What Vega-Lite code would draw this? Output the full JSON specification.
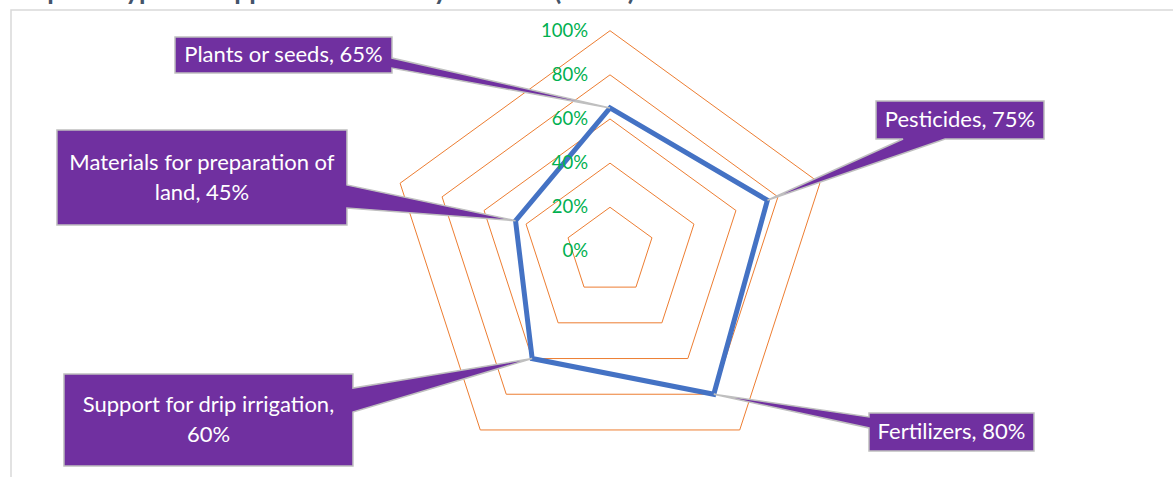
{
  "$schema": "https://vega.github.io/schema/vega-lite/v6.json",
  "width": 1170,
  "height": 475,
  "autosize": {"type": "none"},
  "padding": {"left": 11, "top": 10, "right": 0, "bottom": 0},
  "background": "white",
  "config": {"view": {"stroke": "#D9D9D9", "strokeWidth": 1.5}, "font": "Lato"},
  "title": {
    "text": "Graph 5: Type of Support Received by Farmers (N=20)",
    "anchor": "start",
    "frame": "group",
    "orient": "top",
    "offset": -16,
    "baseline": "alphabetic",
    "dx": -6,
    "font": "Lato",
    "fontSize": 26.5,
    "fontWeight": "bold",
    "color": "#44546A"
  },
  "datasets": {
    "support": [
      {"category": "Plants or seeds", "value": 0.65},
      {"category": "Pesticides", "value": 0.75},
      {"category": "Fertilizers", "value": 0.80},
      {"category": "Support for drip irrigation", "value": 0.60},
      {"category": "Materials for preparation of land", "value": 0.45}
    ],
    "grid": [
      {"category": "Plants or seeds", "level": 0.2},
      {"category": "Pesticides", "level": 0.2},
      {"category": "Fertilizers", "level": 0.2},
      {"category": "Support for drip irrigation", "level": 0.2},
      {"category": "Materials for preparation of land", "level": 0.2},
      {"category": "Plants or seeds", "level": 0.4},
      {"category": "Pesticides", "level": 0.4},
      {"category": "Fertilizers", "level": 0.4},
      {"category": "Support for drip irrigation", "level": 0.4},
      {"category": "Materials for preparation of land", "level": 0.4},
      {"category": "Plants or seeds", "level": 0.6},
      {"category": "Pesticides", "level": 0.6},
      {"category": "Fertilizers", "level": 0.6},
      {"category": "Support for drip irrigation", "level": 0.6},
      {"category": "Materials for preparation of land", "level": 0.6},
      {"category": "Plants or seeds", "level": 0.8},
      {"category": "Pesticides", "level": 0.8},
      {"category": "Fertilizers", "level": 0.8},
      {"category": "Support for drip irrigation", "level": 0.8},
      {"category": "Materials for preparation of land", "level": 0.8},
      {"category": "Plants or seeds", "level": 1.0},
      {"category": "Pesticides", "level": 1.0},
      {"category": "Fertilizers", "level": 1.0},
      {"category": "Support for drip irrigation", "level": 1.0},
      {"category": "Materials for preparation of land", "level": 1.0}
    ],
    "ticks": [
      {"level": 0}, {"level": 0.2}, {"level": 0.4}, {"level": 0.6}, {"level": 0.8}, {"level": 1.0}
    ]
  },
  "encoding": {
    "x": {"field": "x", "type": "quantitative", "scale": {"domain": [-2.7141, 2.5872], "nice": false, "zero": false}, "axis": null},
    "y": {"field": "y", "type": "quantitative", "scale": {"domain": [-1.0584, 1.0938], "nice": false, "zero": false}, "axis": null}
  },
  "layer": [
    {
      "data": {"name": "grid"},
      "transform": [
        {"window": [{"op": "row_number", "as": "idx"}], "groupby": ["level"]},
        {"calculate": "2*PI*(datum.idx-1)/5", "as": "ang"},
        {"calculate": "datum.level*sin(datum.ang)", "as": "x"},
        {"calculate": "datum.level*cos(datum.ang)", "as": "y"}
      ],
      "mark": {"type": "line", "interpolate": "linear-closed", "color": "#ED7D31", "strokeWidth": 1},
      "encoding": {
        "detail": {"field": "level", "type": "nominal"},
        "order": {"field": "idx", "type": "quantitative"}
      }
    },
    {
      "data": {"name": "support"},
      "transform": [
        {"window": [{"op": "row_number", "as": "idx"}]},
        {"calculate": "2*PI*(datum.idx-1)/5", "as": "ang"},
        {"calculate": "datum.value*sin(datum.ang)", "as": "x"},
        {"calculate": "datum.value*cos(datum.ang)", "as": "y"}
      ],
      "mark": {"type": "line", "interpolate": "linear-closed", "color": "#4472C4", "strokeWidth": 5, "strokeJoin": "miter"},
      "encoding": {
        "order": {"field": "idx", "type": "quantitative"}
      }
    },
    {
      "data": {"name": "support"},
      "transform": [
        {"window": [{"op": "row_number", "as": "idx"}]},
        {"calculate": "2*PI*(datum.idx-1)/5", "as": "ang"},
        {"calculate": "datum.value*sin(datum.ang)", "as": "x"},
        {"calculate": "datum.value*cos(datum.ang)", "as": "y"}
      ],
      "mark": {"type": "point", "filled": true, "opacity": 1, "color": "#7030A0", "stroke": "#BFBFBF", "strokeWidth": 1.5, "size": 4},
      "encoding": {
        "shape": {
          "field": "category",
          "type": "nominal",
          "legend": null,
          "scale": {
            "domain": ["Plants or seeds", "Pesticides", "Fertilizers", "Support for drip irrigation", "Materials for preparation of land"],
            "range": [
              "M-435,-70.9H-218V-49.9L0,0L-218,-39.9V-34.9H-435Z",
              "M108.6,-99.3H276.6V-61.3H177.6L0,0L135.6,-61.3H108.6Z",
              "M155.2,18.7H320.2V56.7H155.2V33.7L0,0L155.2,22.7Z",
              "M-468.2,15.5H-179.2V29.5L0,0L-179.2,53.5V107.5H-468.2Z",
              "M-458.6,-90.7H-168.6V-35.7L0,0L-168.6,-12.7V4.3H-458.6Z"
            ]
          }
        }
      }
    },
    {
      "data": {"name": "support"},
      "transform": [
        {"window": [{"op": "row_number", "as": "idx"}]},
        {"calculate": "2*PI*(datum.idx-1)/5", "as": "ang"},
        {"calculate": "datum.value*sin(datum.ang)", "as": "x"},
        {"calculate": "datum.value*cos(datum.ang)", "as": "y"},
        {"calculate": "datum.category + ', ' + format(datum.value, '.0%')", "as": "label0"},
        {"calculate": "length(datum.label0) > 30 ? [substring(datum.label0, 0, lastindexof(substring(datum.label0, 0, 29), ' ')), substring(datum.label0, lastindexof(substring(datum.label0, 0, 29), ' ') + 1)] : datum.label0", "as": "label"}
      ],
      "mark": {
        "type": "text",
        "color": "white",
        "font": "Lato",
        "fontSize": 22,
        "lineHeight": 30,
        "align": "center",
        "baseline": "middle",
        "dx": {"expr": "{'Plants or seeds': -326.5, 'Pesticides': 192.6, 'Fertilizers': 237.7, 'Support for drip irrigation': -323.7, 'Materials for preparation of land': -313.6}[datum.category]"},
        "dy": {"expr": "{'Plants or seeds': -52.9, 'Pesticides': -80.3, 'Fertilizers': 37.7, 'Support for drip irrigation': 46.5, 'Materials for preparation of land': -58.2}[datum.category]"}
      },
      "encoding": {
        "text": {"field": "label", "type": "nominal"}
      }
    },
    {
      "data": {"name": "ticks"},
      "transform": [
        {"calculate": "0", "as": "x"},
        {"calculate": "datum.level", "as": "y"}
      ],
      "mark": {"type": "text", "color": "#00B050", "font": "Lato", "fontSize": 18.5, "align": "right", "baseline": "middle", "dx": -22},
      "encoding": {
        "text": {"field": "level", "type": "quantitative", "format": ".0%"}
      }
    }
  ]
}
